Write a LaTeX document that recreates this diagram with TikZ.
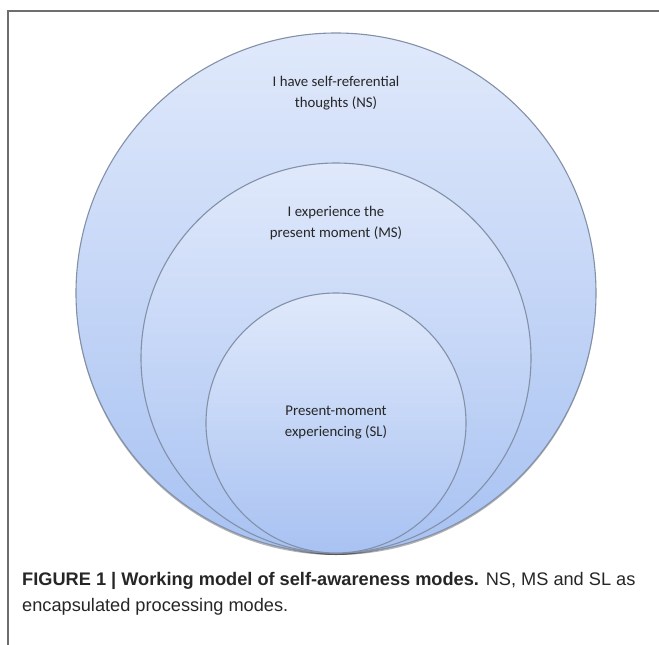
\documentclass[tikz,border=0pt]{standalone}
\usepackage{fontspec}
\setmainfont{Carlito}
\newfontfamily\capfont{Liberation Sans}
\usepackage{tikz}
\usetikzlibrary{positioning, calc}

\definecolor{rimgray}{HTML}{8391A8}
\definecolor{topblue}{HTML}{E0E9FB}
\definecolor{lowblue}{HTML}{A8C2F2}
\definecolor{framegray}{HTML}{6E6E6E}

\tikzset{
  mode/.style={circle, draw=rimgray, line width=1.1pt, top color=topblue, bottom color=lowblue, inner sep=0pt},
  modeshadow/.style={circle, fill=black, opacity=0.3, inner sep=0pt},
  modetext/.style={align=center, font=\fontsize{14.8}{21}\selectfont, text=black!85},
  captext/.style={anchor=west, font=\capfont\fontsize{18.2}{22}\selectfont, inner sep=0pt, text=black!85}
}

\begin{document}
\begin{tikzpicture}[x=1pt, y=-1pt]
    \useasboundingbox (0,0) rectangle (659,645);

    % Frame round the figure
    \draw[framegray, line width=2pt] (8,645) -- (8,11) -- (659,11);

    % Shadows under the circles
    \node[modeshadow, minimum size=520pt] at (336,295) {};
    \node[modeshadow, minimum size=390pt] at (336,360) {};
    \node[modeshadow, minimum size=260pt] at (336,425) {};

    % Nested circles for the three modes
    \node (ns) [mode, minimum size=520pt] at (336,293) {};
    \node (ms) [mode, minimum size=390pt] at (336,358) {};
    \node (sl) [mode, minimum size=260pt] at (336,423) {};

    % Labels inside the circles
    \node (nslabel) [modetext] at ([yshift=-61pt]ns.north) {I have self-referential\\thoughts (NS)};
    \node (mslabel) [modetext] at ([yshift=-61pt]ms.north) {I experience the\\present moment (MS)};
    \node (sllabel) [modetext] at (sl.center) {Present-moment\\experiencing (SL)};

    % Caption
    \node (cap1) [captext] at (22,581) {\textbf{FIGURE 1 | Working model of self-awareness modes.} NS, MS and SL as};
    \node (cap2) [captext, below=8pt of cap1.south west, anchor=north west] {encapsulated processing modes.};
\end{tikzpicture}
\end{document}
